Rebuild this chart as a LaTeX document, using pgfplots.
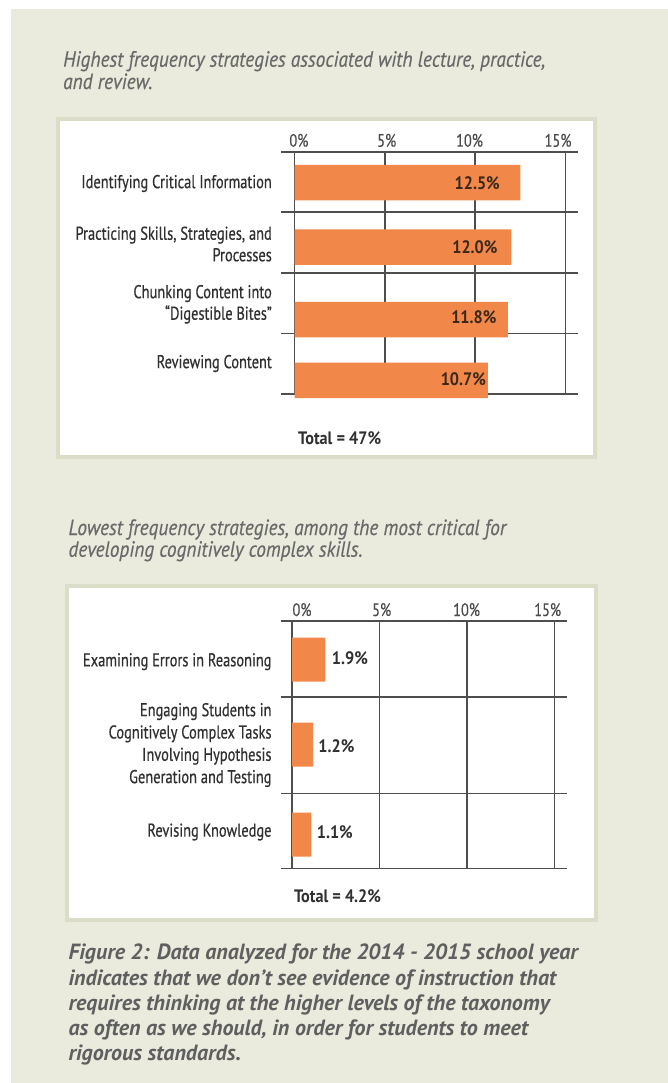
\documentclass[border=0pt]{standalone}
\usepackage{pgfplots}
\pgfplotsset{compat=1.18}
\usepackage{fontspec}
\setmainfont{PT Sans}
\newfontfamily\labf[FakeStretch=0.78,FakeBold=0.5]{PT Sans}
\newfontfamily\tickf[FakeStretch=0.8,FakeBold=0.3]{PT Sans}
\newfontfamily\valf[FakeStretch=0.9]{PT Sans}
\newfontfamily\titf[FakeStretch=0.88,FakeBold=0.4]{PT Sans}
\newfontfamily\capf[FakeStretch=1.0]{PT Sans}
\definecolor{bgc}{RGB}{234,235,221}
\definecolor{boxc}{RGB}{218,222,200}
\definecolor{gridc}{RGB}{78,78,78}
\definecolor{barc}{RGB}{242,135,74}
\definecolor{titc}{RGB}{105,105,105}
\definecolor{capc}{RGB}{95,95,95}
\definecolor{labc}{RGB}{48,48,48}
\definecolor{valc}{RGB}{58,40,28}
\definecolor{tickc}{RGB}{75,75,75}
\newcommand\labfont{\labf\fontsize{18.5}{21.5}\selectfont}
\newcommand\tickfont{\tickf\fontsize{18}{20}\selectfont}
\newcommand\valfont{\valf\bfseries\fontsize{18}{20}\selectfont}
\newcommand\titfont{\titf\itshape\fontsize{22}{24}\selectfont}
\newcommand\capfont{\capf\bfseries\itshape\fontsize{22}{25}\selectfont}
\pgfplotsset{
  mybar/.style={
    scale only axis, clip=false, y dir=reverse,
    axis line style={draw=none}, major tick length=0pt,
    tick style={draw=none},
    xticklabel pos=upper,
    xticklabel style={font=\tickfont, text=tickc, anchor=base, inner sep=0pt, yshift=5pt},
    yticklabel style={font=\labfont, text=labc, anchor=east, align=right, inner sep=0pt, xshift=-9pt},
    extra x tick labels={}, extra y tick labels={},
    extra x tick style={grid=major}, extra y tick style={grid=major},
    grid style={line width=1.6pt, draw=gridc},
  }
}
\begin{document}
\begin{tikzpicture}
\useasboundingbox (0,0) rectangle (668pt,-1083pt);
\fill[white] (0,0) rectangle (668pt,-1083pt);
\fill[bgc] (11pt,-9pt) rectangle (668pt,-1083pt);
% boxes
\draw[boxc, line width=4pt, fill=white] (58pt,-118.7pt) rectangle (595pt,-457.3pt);
\draw[boxc, line width=4pt, fill=white] (67pt,-586.3pt) rectangle (596pt,-920pt);
% titles
\node[anchor=base west, inner sep=0pt, text=titc, font=\titfont] at (63pt,-66.7pt) {Highest frequency strategies associated with lecture, practice,};
\node[anchor=base west, inner sep=0pt, text=titc, font=\titfont] at (63pt,-89pt) {and review.};
\node[anchor=base west, inner sep=0pt, text=titc, font=\titfont] at (68.3pt,-535pt) {Lowest frequency strategies, among the most critical for};
\node[anchor=base west, inner sep=0pt, text=titc, font=\titfont] at (68.3pt,-556.7pt) {developing cognitively complex skills.};
% caption
\node[anchor=base west, inner sep=0pt, text=capc, font=\capfont] at (68.3pt,-959pt) {Figure 2: Data analyzed for the 2014 - 2015 school year};
\node[anchor=base west, inner sep=0pt, text=capc, font=\capfont] at (68.3pt,-985pt) {indicates that we don’t see evidence of instruction that};
\node[anchor=base west, inner sep=0pt, text=capc, font=\capfont] at (68.3pt,-1010.5pt) {requires thinking at the higher levels of the taxonomy};
\node[anchor=base west, inner sep=0pt, text=capc, font=\capfont] at (68.3pt,-1035.5pt) {as often as we should, in order for students to meet};
\node[anchor=base west, inner sep=0pt, text=capc, font=\capfont] at (68.3pt,-1060pt) {rigorous standards.};
% chart 1
\begin{axis}[mybar,
  at={(281pt,-151.7pt)}, anchor=north west,
  width=297.3pt, height=242.3pt,
  xmin=-0.75, xmax=15.7, ymin=151.7, ymax=394,
  xtick={0.24,5.1,9.68,14.58}, xticklabels={0\%,5\%,10\%,15\%},
  extra x ticks={0,5,10,15},
  ytick={183.5,244,304.3,363.5},
  yticklabels={Identifying Critical Information,{Practicing Skills, Strategies, and\\Processes},{Chunking Content into\\“Digestible Bites”},Reviewing Content},
  extra y ticks={151.7,211.7,272.7,333.3,394},
]
\addplot[xbar, fill=barc, draw=none, bar width=35.5] coordinates {(12.5,182.5) (12.0,247.2) (11.8,319.5) (10.7,380.3)};
\addplot[draw=none, mark=none, nodes near coords, point meta=explicit symbolic,
  every node near coord/.append style={anchor=east, font=\valfont, text=valc, inner sep=0pt}]
  coordinates {(11.37,183.3) [12.5\%] (11.24,247.3) [12.0\%] (11.18,316.7) [11.8\%] (10.6,379) [10.7\%]};
\end{axis}
\node[anchor=base, inner sep=0pt, text=labc, font=\valfont] at (339.7pt,-444.8pt) {Total = 47\%};
% chart 2
\begin{axis}[mybar,
  at={(280.7pt,-621pt)}, anchor=north west,
  width=286pt, height=247.3pt,
  xmin=-0.66, xmax=15.71, ymin=621, ymax=868.3,
  xtick={0.56,5.12,9.98,14.62}, xticklabels={0\%,5\%,10\%,15\%},
  extra x ticks={0,5,10,15},
  ytick={661.7,745,832},
  yticklabels={Examining Errors in Reasoning,{Engaging Students in\\Cognitively Complex Tasks\\Involving Hypothesis\\Generation and Testing},Revising Knowledge},
  yticklabel style={font=\labf\fontsize{18.5}{22.3}\selectfont},
  extra y ticks={621,696.7,793.3,868.3},
]
\addplot[xbar, fill=barc, draw=none, bar width=44] coordinates {(1.9,659.5) (1.2,744.5) (1.1,834.5)};
\addplot[draw=none, mark=none, nodes near coords, point meta=explicit symbolic,
  every node near coord/.append style={anchor=west, font=\valfont, text=labc, inner sep=0pt}]
  coordinates {(2.26,658.3) [1.9\%] (1.49,745.7) [1.2\%] (1.40,831.7) [1.1\%]};
\end{axis}
\node[anchor=base, inner sep=0pt, text=labc, font=\valfont] at (337.5pt,-902.5pt) {Total = 4.2\%};
\end{tikzpicture}
\end{document}
